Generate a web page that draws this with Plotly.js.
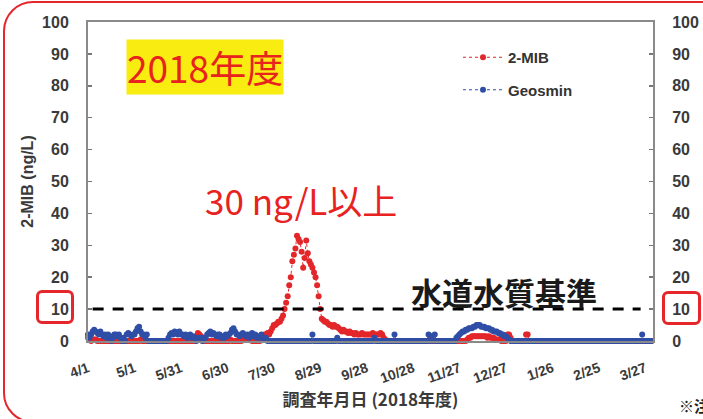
<!DOCTYPE html>
<html><head><meta charset="utf-8">
<script src="https://cdn.plot.ly/plotly-3.0.1.min.js"></script>
<style>
html,body{margin:0;padding:0;background:#fff;overflow:hidden;width:703px;height:419px;}
#wrap{position:relative;width:703px;height:419px;overflow:hidden;}
#chart{position:absolute;left:0;top:0;width:703px;height:419px;}
.frame{position:absolute;left:3px;top:1px;width:760px;height:422px;border:2.5px solid #e5262b;border-radius:30px;box-sizing:border-box;pointer-events:none;}
.box{position:absolute;border:3px solid #e5262b;border-radius:6px;box-sizing:border-box;pointer-events:none;}
</style></head>
<body><div id="wrap"><div id="chart"></div><div class="frame"></div><div class="box" style="left:36px;top:290px;width:38px;height:34px"></div><div class="box" style="left:662px;top:291px;width:39px;height:34px"></div></div>
<script>
// ---- data (daily, 2018-04-01 .. 2019-03-31) ----
const tickVals = ['2018-04-01','2018-05-01','2018-05-31','2018-06-30','2018-07-30','2018-08-29','2018-09-28','2018-10-28','2018-11-27','2018-12-27','2019-01-26','2019-02-25','2019-03-27'];
const tickText = ['4/1','5/1','5/31','6/30','7/30','8/29','9/28','10/28','11/27','12/27','1/26','2/25','3/27'];
const mib = [
 // Apr
 1,0.5,0,0.5,0.5,0.5,0,0,0,0, 0,0,0,0,0,0,0,0,0,0, 0,0,0,0,0,0,0,0,0,0,
 // May
 0,0,0,0,0.5,0,0,0,0,0, 0,0,0,0,0,0,0,0,0,0, 0,0,0,0,0,0,0,0,0,0, 0,
 // Jun
 0,0,0,0,0,0,0,0,0,1.5, 2.5,2,1.5,0,0,0,0,0,0,0, 0,0,0,0,0,0,0,0,0,0,
 // Jul
 0,0.5,0,0,0,0,0,0,0,1, 0.5,1,1,0.5,1,0,0,0,0,0, 0,1,1.5,2,2,2.5,2,3,4,5, 5,
 // Aug
 5.5,6,6,7,8,10,12,14,17.5,20, 25,27,29,33,32,31,28,23,26,31.5, 27.5,25,24,23,21.5,20,17.5,14,10,7, 6.5,
 // Sep
 6,6,5.5,5,5,4.5,5,4.5,4.5,4, 3.5,3,3.5,3,3,2.5,3,2.5,2.5,2, 2.5,2,2,2,2.5,2,2,2,2,2,
 // Oct
 2,2.5,2,2,2,2,2.5,2,1,0.5, 0,0,0,0,0,0,0,0,0,0, 0,0,0,0,0,0,0,0,0,0, 0,
 // Nov
 0,0,0,0,0,0,0,1.5,0,0, 0,0,0,0,0,0,0,0,0,0, 0,0,0,0,0,0,0,0,0,0,
 // Dec
 0,0.5,1,1,1.5,1.5,1.5,1.5,1.5,1.5, 1.5,1.5,1.5,1.5,1,1.5,1,1,1,0.5, 0.5,0.5,0.5,0,0,0,0,2,2,1, 0,
 // Jan
 0,0,0,0,0,0,0,0,2,2, 0,0,0,0,0,0,0,0,0,0, 0,0,0,0,0,0,0,0,0,0, 0,
 // Feb
 0,0,0,0,0,0,0,0,0,0, 0,0,0,0,0,0,0,0,0,0, 0,0,0,0,0,0,0,0,
 // Mar
 0,0,0,0,0,0,0,0,0,0, 0,0,0,0,0,0,0,0,0,0, 0,0,0,0,0,0,0,0,0,0, 0
];
const geosmin = [
 // Apr
 2,1,2,3,3.5,3,2.5,2,3,2, 1.5,2,1,2,1.5,0,1,2,2,1.5, 2,1,0,1,0,2,2.5,2,1.5,2,
 // May
 2,3,4,4.5,3,2,2,1,2,0, 0,0,0,0,0,0,0,0,0,0, 0,0,1,2,2.5,2,3,2.5,2,3, 2,
 // Jun
 2,1.5,2,1,1.5,2,1,1.5,1,0, 1,0.5,1,0,1,1,2,2.5,3,2, 2.5,2,1.5,2,2,1,1.5,1,2,1.5,
 // Jul
 2,2.5,3.5,4,3,2,2,1.5,2,2.5, 2,1.5,2,1,2,2.5,1.5,2,1,1.5, 1,2,1,0.5,1,0,0,0,0,0, 0,
 // Aug
 0,0,0,0,0,0,0,0,0,0, 0,0,0,0,0,0,0,0,0,0, 0,0,0,2,0,0,0,0,0,0, 0,
 // Sep
 0,0,0,0,0,0,0,0,1,0, 0,0,0,0,0,0,0,0,0,0, 0,0,0,0,0,0,0,0,0,0,
 // Oct
 0,0,1,0,0,0,0,0,0,0, 0,0,0,0,0,2,0,0,0,0, 0,0,0,0,0,0,0,0,0,0, 0,
 // Nov
 0,0,0,0,0,0,2,0,1.5,0, 2,0,0,0,0,0,0,0,0,0, 0,0,0,0,1,1.5,2,2.5,3,3,
 // Dec
 3.5,3.5,4,4,4,4.5,4.5,5,5,5, 4.5,4.5,4.5,4,4,4,3.5,3.5,3,3, 3,2.5,2.5,2,2,1.5,1.5,1,0.5,0, 0,
 // Jan
 0,0,0,0,0,0,0,0,0,0, 0,0,0,0,0,0,0,0,0,0, 0,0,0,0,0,0,0,0,0,0, 0,
 // Feb
 0,0,0,0,0,0,0,0,0,0, 0,0,0,0,0,0,0,0,0,0, 0,0,0,0,0,0,0,0,
 // Mar
 0,0,0,0,0,0,0,0,0,0, 0,0,0,0,0,0,0,0,0,0, 0,0,0,0,2,0,0,0,0,0, 0
];
const standardValue = 10;
const standardX = ['2018-04-04','2019-03-24'];

// dates for each daily sample
const dates = mib.map((_, i) => {
  const d = new Date(Date.UTC(2018, 3, 1 + i));
  return d.toISOString().slice(0, 10);
});

const RED = '#e3262a', BLUE = '#2f4ea6';
const W = 703, H = 419, L = 88, R = 50, T = 22, B = 78;
const px = x => (x - L) / (W - L - R);
const py = y => (H - B - y) / (H - T - B);
const latin = 'Arial, "Liberation Sans", sans-serif';
const jp = '"Noto Sans CJK JP", sans-serif';

const traces = [
  {x: dates, y: mib, name: '2-MIB', type: 'scatter', mode: 'lines+markers',
   line: {color: RED, width: 1, dash: 'dot'}, marker: {color: RED, size: 6},
   cliponaxis: false, legendgroup: 'a'},
  {x: dates, y: geosmin, name: 'Geosmin', type: 'scatter', mode: 'lines+markers',
   line: {color: BLUE, width: 1, dash: 'dot'}, marker: {color: BLUE, size: 6},
   cliponaxis: false, legendgroup: 'b'},
  {x: standardX, y: [standardValue, standardValue], yaxis: 'y2', type: 'scatter', mode: 'lines',
   line: {color: '#000', width: 3, dash: '11px,9px'}, showlegend: false, hoverinfo: 'skip'}
];

const axisFont = {family: latin, size: 16, color: '#3a3a3a', weight: 'bold'};
const ann = (text, x, y, font, extra) => Object.assign({text, xref: 'paper', yref: 'paper', x: px(x), y: py(y),
  xanchor: 'center', yanchor: 'middle', showarrow: false, font}, extra || {});
const layout = {
  width: W, height: H,
  margin: {l: L, r: R, t: T, b: B, pad: 0},
  paper_bgcolor: '#fff', plot_bgcolor: '#fff',
  showlegend: true,
  legend: {x: px(458), y: py(41), xanchor: 'left', yanchor: 'top', bgcolor: 'rgba(0,0,0,0)',
           font: {family: latin, size: 15, color: '#333', weight: 'bold'},
           itemwidth: 40, traceorder: 'grouped', tracegroupgap: 10},
  xaxis: {type: 'date', range: ['2018-04-01', '2019-04-01'], tickvals: tickVals, ticktext: tickText,
          tickangle: -20, ticks: '', showgrid: false, zeroline: false,
          showline: true, linecolor: '#8a8a8a', linewidth: 2, mirror: true,
          ticklabelstandoff: 12,
          tickfont: {family: latin, size: 14, color: '#3a3a3a', weight: 'bold'},
          title: {text: '調査年月日 (2018年度)', font: {family: jp, size: 17, color: '#3a3a3a', weight: 'bold'}, standoff: 8}},
  yaxis: {range: [0, 100], dtick: 10, ticks: 'inside', ticklen: 4, tickwidth: 1.5, tickcolor: '#777',
          showgrid: false, zeroline: false, showline: true, linecolor: '#8a8a8a', linewidth: 2,
          tickfont: axisFont, ticklabelstandoff: 14,
          title: {text: '2-MIB (ng/L)', font: {family: latin, size: 16, color: '#3a3a3a', weight: 'bold'}, standoff: 4}},
  yaxis2: {range: [0, 100], dtick: 10, overlaying: 'y', side: 'right', anchor: 'x',
           ticks: 'inside', ticklen: 4, tickwidth: 1.5, tickcolor: '#777',
           showgrid: false, zeroline: false, showline: true, linecolor: '#8a8a8a', linewidth: 2,
           tickfont: axisFont, ticklabelstandoff: 14},
  annotations: [
    ann('2018年度', 205, 67, {family: jp, size: 37, color: '#e8231f'}, {bgcolor: '#f8ec10', borderpad: 0}),
    ann('30 ng/L以上', 301, 199, {family: jp, size: 35, color: '#e8231f'}),
    ann('<b>水道水質基準</b>', 504, 291, {family: jp, size: 31, color: '#1a1a1a'}),
    ann('<b>※注</b>', 677, 405, {family: jp, size: 15, color: '#222'}, {xanchor: 'left'})
  ]
};
Plotly.newPlot('chart', traces, layout, {staticPlot: true, displayModeBar: false});
</script>
</body></html>
